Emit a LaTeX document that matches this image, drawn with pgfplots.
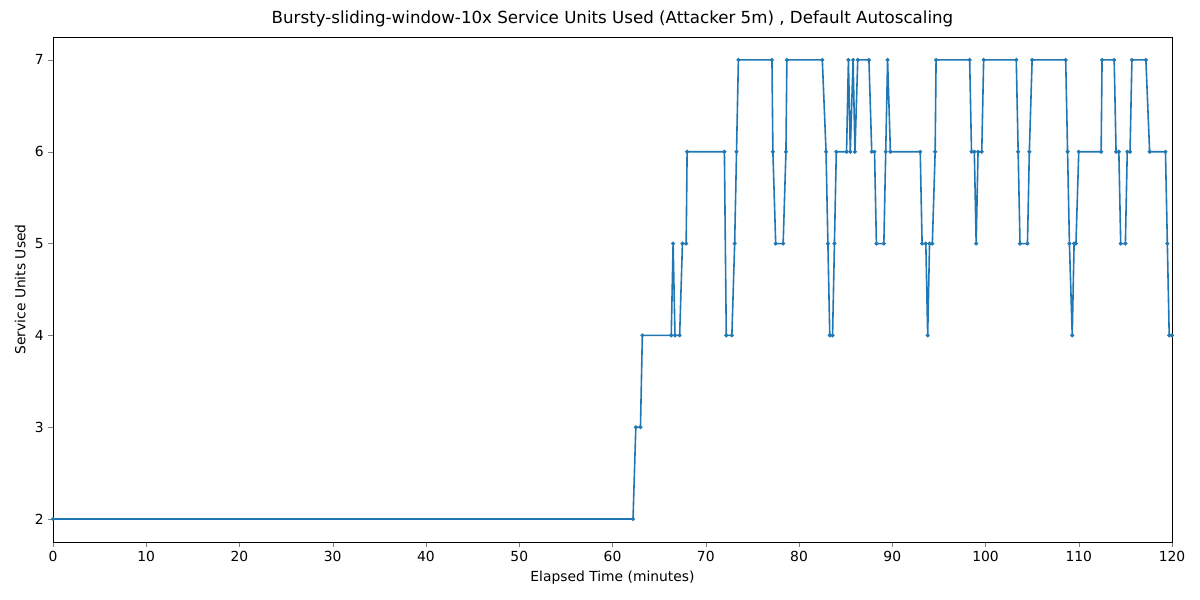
\documentclass[border=0pt]{standalone}
\usepackage{pgfplots}
\pgfplotsset{compat=1.18}
\usepackage{fontspec}
\setmainfont{DejaVu Sans}
\definecolor{mplblue}{HTML}{1F77B4}
\begin{document}
\begin{tikzpicture}
\begin{axis}[
  scale only axis, width=839.25pt, height=378.75pt,
  xmin=0, xmax=120, ymin=1.75, ymax=7.25,
  xtick={0,10,...,120}, ytick={2,3,4,5,6,7},
  /pgf/number format/assume math mode=true,
  tick label style={font=\fontsize{10.4}{12}\selectfont},
  label style={font=\fontsize{10.4}{12}\selectfont},
  xlabel={Elapsed Time (minutes)}, ylabel={Service Units Used},
  title={Bursty-sliding-window-10x Service Units Used (Attacker 5m) , Default Autoscaling},
  title style={font=\fontsize{12.5}{14}\selectfont, yshift=-2pt},
  tick align=outside, tick pos=left, major tick length=3.5pt,
  axis line style={line width=0.6pt},
]
\addplot[mplblue, line width=1.2pt, mark=*, mark size=0.8pt] coordinates {
(0,2) (62.2,2) (62.5,3) (63.0,3) (63.2,4) (66.3,4) (66.5,5) (66.7,4) (67.2,4)
(67.5,5) (67.9,5) (68.0,6) (72.0,6) (72.2,4) (72.8,4) (73.1,5) (73.3,6)
(73.5,7) (77.1,7) (77.2,6) (77.5,5) (78.3,5) (78.6,6) (78.7,7) (82.5,7)
(82.9,6) (83.1,5) (83.3,4) (83.6,4) (83.8,5) (84.0,6) (85.1,6) (85.3,7)
(85.5,6) (85.8,7) (86.0,6) (86.3,7) (87.5,7) (87.8,6) (88.1,6) (88.3,5)
(89.1,5) (89.3,6) (89.5,7) (89.8,6) (93.0,6) (93.2,5) (93.6,5) (93.8,4)
(94.0,5) (94.3,5) (94.6,6) (94.7,7) (98.3,7) (98.5,6) (98.8,6) (99.0,5)
(99.2,6) (99.6,6) (99.8,7) (103.3,7) (103.5,6) (103.7,5) (104.5,5) (104.7,6)
(105.0,7) (108.6,7) (108.8,6) (109.0,5) (109.3,4) (109.5,5) (109.7,5)
(110.0,6) (112.4,6) (112.5,7) (113.8,7) (114.0,6) (114.3,6) (114.5,5)
(115.0,5) (115.2,6) (115.5,6) (115.7,7) (117.2,7) (117.6,6) (119.3,6)
(119.5,5) (119.7,4) (120.0,4)
};
\end{axis}
\useasboundingbox ([shift={(-39.75pt,-43.5pt)}]current axis.south west) rectangle ([shift={(21pt,27.75pt)}]current axis.north east);
\end{tikzpicture}
\end{document}
